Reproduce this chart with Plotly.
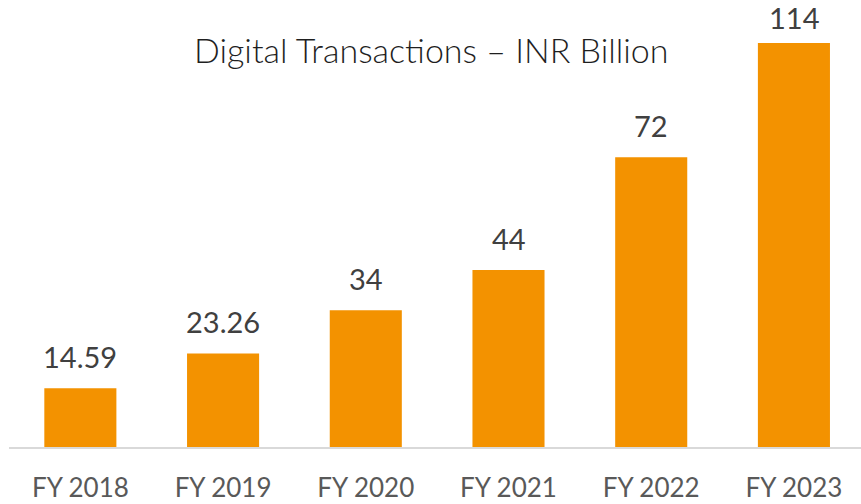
import plotly.graph_objects as go

categories = ["FY 2018", "FY 2019", "FY 2020", "FY 2021", "FY 2022", "FY 2023"]
values = [14.59, 23.26, 34, 44, 72, 114]
value_labels = ["14.59", "23.26", "34", "44", "72", "114"]

Y_MAX = 100.4
BAR_COLOR = "#F39200"
FONT = "Lato"

fig = go.Figure()
fig.add_trace(go.Bar(
    x=list(range(len(categories))),
    y=values,
    marker=dict(color=BAR_COLOR, line=dict(width=0)),
    width=0.505,
    hoverinfo="skip",
))

for i, (v, lab) in enumerate(zip(values, value_labels)):
    clipped = v > Y_MAX
    fig.add_annotation(
        x=i, y=min(v, Y_MAX), xref="x", yref="y",
        text=lab, showarrow=False, yanchor="bottom",
        yshift=6 if clipped else 12,
        font=dict(family=FONT, size=29, color="#404040"),
    )

fig.add_annotation(
    xref="paper", yref="paper",
    x=(431 - 9) / 852, y=1 + (43 - 49) / 403.7,
    xanchor="center", yanchor="middle",
    text="Digital Transactions – INR Billion", showarrow=False,
    font=dict(family=FONT, size=34, color="#1f1f1f", weight=300),
)

fig.update_layout(
    width=861, height=504,
    margin=dict(l=9, r=0, t=43, b=57, pad=0),
    paper_bgcolor="white", plot_bgcolor="white",
    showlegend=False,
    font=dict(family=FONT, color="#595959"),
    xaxis=dict(
        range=[-0.5, 5.47],
        tickmode="array",
        tickvals=list(range(len(categories))),
        ticktext=categories,
        tickfont=dict(family=FONT, size=26, color="#595959"),
        showline=True, linecolor="#D9D9D9", linewidth=1.5,
        showgrid=False, zeroline=False, ticks="",
        ticklabelstandoff=17,
    ),
    yaxis=dict(
        range=[0, Y_MAX], visible=False, showgrid=False, zeroline=False,
    ),
)

fig.write_html(
    "out.html",
    config={"displayModeBar": False, "staticPlot": True},
    post_script="document.body.style.margin='0';document.body.style.overflow='hidden';",
)
